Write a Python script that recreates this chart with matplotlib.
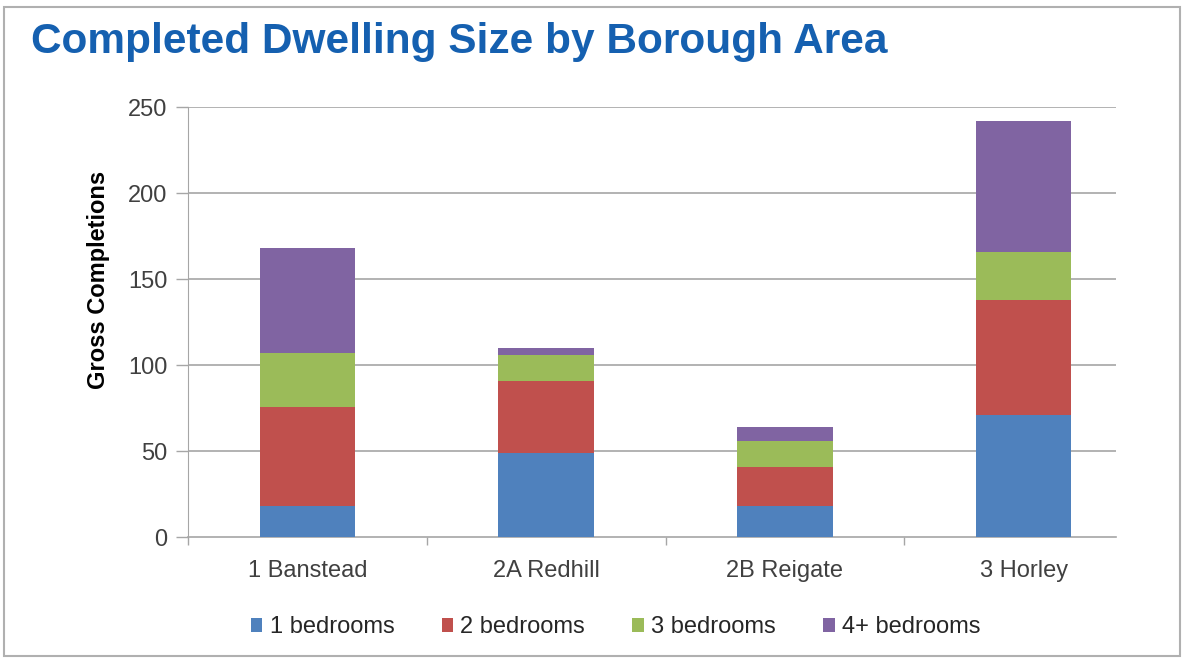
import matplotlib
matplotlib.use("Agg")
import matplotlib.pyplot as plt
import numpy as np
from matplotlib.patches import Rectangle

areas = ["1 Banstead", "2A Redhill", "2B Reigate", "3 Horley"]
series_names = ["1 bedrooms", "2 bedrooms", "3 bedrooms", "4+ bedrooms"]
one_bed = [18, 49, 18, 71]
two_bed = [58, 42, 23, 67]
three_bed = [31, 15, 15, 28]
four_plus_bed = [61, 4, 8, 76]
y_ticks = [0, 50, 100, 150, 200, 250]

colors = ["#4F81BD", "#C0504D", "#9BBB59", "#8064A2"]
grid_color = "#A6A6A6"

plt.rcParams["font.family"] = ["Liberation Sans", "DejaVu Sans"]

fig = plt.figure(figsize=(11.84, 6.59), dpi=100)
fig.patch.set_facecolor("white")

# outer frame
fig.patches.append(Rectangle((0.003, 0.004), 0.994, 0.985, transform=fig.transFigure,
                             fill=False, edgecolor="#B0B0B0", linewidth=1.5))

ax = fig.add_axes([0.1588, 0.1847, 0.8066, 0.6525])

x = np.arange(len(areas))
bottom = np.zeros(len(areas))
for name, vals, c in zip(series_names, [one_bed, two_bed, three_bed, four_plus_bed], colors):
    ax.bar(x, vals, width=0.40, bottom=bottom, color=c, label=name, zorder=3)
    bottom += np.array(vals)

x_lo, x_hi = -0.5, len(areas) - 0.5
grid_end = 3.387  # plot area stops short of the last category edge
ax.set_xlim(x_lo, x_hi)
ax.set_ylim(0, 250)
ax.set_yticks(y_ticks)
ax.set_yticklabels([str(v) for v in y_ticks], fontsize=17, color="#404040")
ax.hlines(y_ticks[1:], x_lo, grid_end, colors=grid_color, linewidth=1.2, zorder=0)

ax.set_xticks(x)
ax.set_xticklabels(areas, fontsize=17, color="#404040")
ax.tick_params(axis="x", length=0, pad=16)
ax.set_xticks(np.arange(-0.5, len(areas) - 1), minor=True)
ax.tick_params(axis="x", which="minor", length=6, color=grid_color, width=1)
ax.tick_params(axis="y", length=9, color=grid_color, width=1, pad=6)

for s in ["top", "right"]:
    ax.spines[s].set_visible(False)
ax.spines["left"].set_color(grid_color)
ax.spines["bottom"].set_color(grid_color)
ax.spines["bottom"].set_linewidth(1.2)
ax.spines["bottom"].set_bounds(x_lo, grid_end)

ax.set_ylabel("Gross Completions", fontsize=17, fontweight="bold", color="black")
ax.yaxis.set_label_coords(-0.082, 0.598)

fig.text(0.026, 0.936, "Completed Dwelling Size by Borough Area", fontsize=30.5,
         fontweight="bold", color="#1560B0", ha="left", va="center")

fig.legend(loc="center", bbox_to_anchor=(0.52, 0.048), ncol=4, frameon=False,
           fontsize=17, handlelength=0.5, handleheight=0.5, handletextpad=0.3,
           columnspacing=2.0, labelcolor="#262626")

fig.savefig("out.png", dpi=100, facecolor="white")
